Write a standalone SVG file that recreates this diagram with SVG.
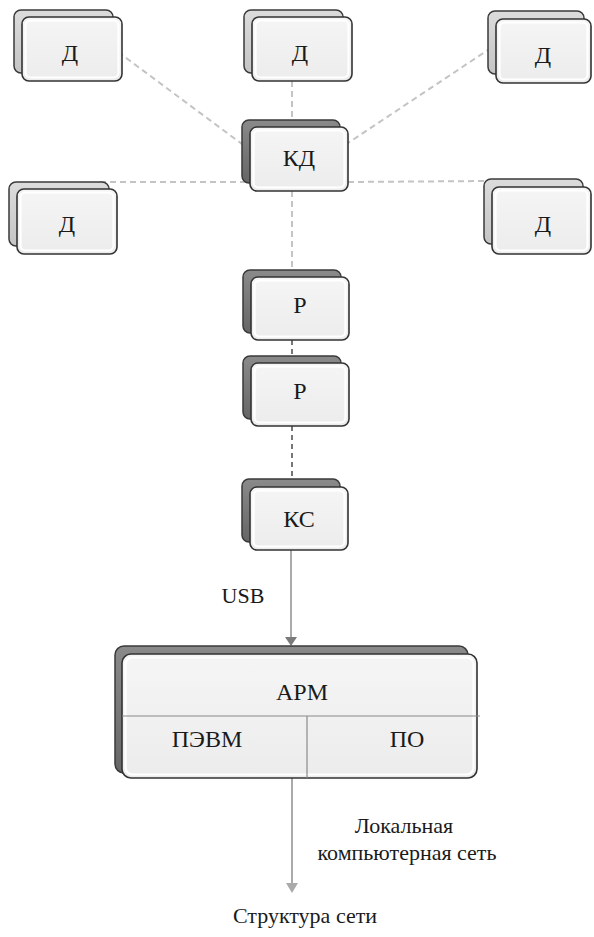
<svg xmlns="http://www.w3.org/2000/svg" width="594" height="937" viewBox="0 0 594 937">
<defs>
<linearGradient id="gLight" x1="0" y1="0" x2="0" y2="1"><stop offset="0" stop-color="#dcdcdc"/><stop offset="1" stop-color="#c4c4c4"/></linearGradient>
<linearGradient id="gDark" x1="0" y1="0" x2="0" y2="1"><stop offset="0" stop-color="#8a8a8a"/><stop offset="1" stop-color="#666"/></linearGradient>
<linearGradient id="gFront" x1="0" y1="0" x2="0" y2="1"><stop offset="0" stop-color="#f5f5f5"/><stop offset="1" stop-color="#ececec"/></linearGradient>
</defs>
<style>
.bl{fill:url(#gLight);stroke:#3a3a3a;stroke-width:1.5}
.bd{fill:url(#gDark);stroke:#3a3a3a;stroke-width:1.5}
.fr{fill:url(#gFront);stroke:#333;stroke-width:1.6}
.in{fill:none;stroke:#fff;stroke-width:2.2}
text{fill:#1a1a1a;text-anchor:middle}
.t{font-family:'Liberation Serif','Times New Roman',serif;font-size:24px}
.lb{font-family:'Liberation Serif','Times New Roman',serif;font-size:22px}
.dl{stroke:#c4c4c4;stroke-width:2;stroke-dasharray:6 4;fill:none}
.dd{stroke:#777;stroke-width:2;stroke-dasharray:5 4;fill:none}
.sl{stroke:#aaa;stroke-width:2;fill:none}
</style>
<g id="connectors">
<line class="dl" x1="110" y1="46" x2="246" y2="147"/>
<line class="dl" x1="345" y1="145" x2="500" y2="42"/>
<line class="dl" x1="100" y1="182" x2="246" y2="182"/>
<line class="dl" x1="348" y1="182" x2="490" y2="181"/>
<line class="dl" x1="292" y1="81" x2="292" y2="121"/>
<line class="dl" x1="292" y1="191" x2="292" y2="271"/>
<line class="dd" x1="292" y1="340" x2="292" y2="356"/>
<line class="dd" x1="292" y1="426" x2="292" y2="480"/>
<line class="sl" x1="291" y1="550" x2="291" y2="640"/>
<polygon points="285,637 297,637 291,646" fill="#7a7a7a"/>
<line class="sl" x1="292" y1="778" x2="292" y2="885"/>
<polygon points="286,883 298,883 292,893" fill="#aaa"/>
</g>
<g id="d1"><rect class="bl" x="14" y="10" width="99" height="63" rx="7"/><rect class="fr" x="22" y="17" width="100" height="64" rx="7"/><rect class="in" x="25.5" y="20.5" width="93" height="57" rx="5"/><text class="t" x="70" y="61">Д</text></g>
<g id="d2"><rect class="bl" x="244" y="10" width="99" height="63" rx="7"/><rect class="fr" x="252" y="17" width="100" height="64" rx="7"/><rect class="in" x="255.5" y="20.5" width="93" height="57" rx="5"/><text class="t" x="300" y="61">Д</text></g>
<g id="d3"><rect class="bl" x="488" y="11" width="96" height="63" rx="7"/><rect class="fr" x="496" y="19" width="95" height="64" rx="7"/><rect class="in" x="499.5" y="22.5" width="88" height="57" rx="5"/><text class="t" x="543" y="63">Д</text></g>
<g id="kd"><rect class="bd" x="242" y="120" width="98" height="63" rx="7"/><rect class="fr" x="250" y="127" width="98" height="64" rx="7"/><rect class="in" x="253.5" y="130.5" width="91" height="57" rx="5"/><text class="t" x="299" y="166">КД</text></g>
<g id="d4"><rect class="bl" x="9" y="182" width="100" height="64" rx="7"/><rect class="fr" x="17" y="189" width="100" height="65" rx="7"/><rect class="in" x="20.5" y="192.5" width="93" height="58" rx="5"/><text class="t" x="67" y="232">Д</text></g>
<g id="d5"><rect class="bl" x="484" y="179" width="99" height="65" rx="7"/><rect class="fr" x="492" y="187" width="99" height="67" rx="7"/><rect class="in" x="495.5" y="190.5" width="92" height="60" rx="5"/><text class="t" x="543" y="232">Д</text></g>
<g id="r1"><rect class="bd" x="243" y="270" width="98" height="63" rx="7"/><rect class="fr" x="251" y="277" width="98" height="63" rx="7"/><rect class="in" x="254.5" y="280.5" width="91" height="56" rx="5"/><text class="t" x="300" y="313">Р</text></g>
<g id="r2"><rect class="bd" x="243" y="356" width="98" height="63" rx="7"/><rect class="fr" x="251" y="363" width="98" height="63" rx="7"/><rect class="in" x="254.5" y="366.5" width="91" height="56" rx="5"/><text class="t" x="300" y="399">Р</text></g>
<g id="ks"><rect class="bd" x="242" y="479" width="98" height="63" rx="7"/><rect class="fr" x="250" y="487" width="98" height="63" rx="7"/><rect class="in" x="253.5" y="490.5" width="91" height="56" rx="5"/><text class="t" x="299" y="527">КС</text></g>
<g id="arm"><rect class="bd" x="115" y="646" width="353" height="127" rx="9"/><rect class="fr" x="122" y="654" width="355" height="124" rx="9"/><rect class="in" x="125.5" y="657.5" width="348" height="117" rx="7"/>
<line x1="122" y1="716" x2="480" y2="716" stroke="#8a8a8a" stroke-width="1.2"/><line x1="307" y1="716" x2="307" y2="778" stroke="#8a8a8a" stroke-width="1.2"/>
<text class="t" x="302" y="700">АРМ</text><text class="t" x="207" y="747">ПЭВМ</text><text class="t" x="407" y="747">ПО</text></g>
<g id="labels">
<text class="lb" x="243" y="603">USB</text>
<text class="lb" x="404" y="833">Локальная</text>
<text class="lb" x="407" y="860">компьютерная сеть</text>
<text class="lb" x="305" y="923">Структура сети</text>
</g>
</svg>
